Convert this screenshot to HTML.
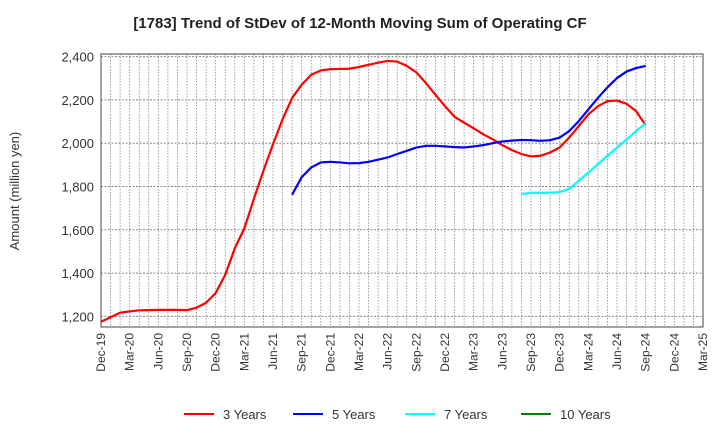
<!DOCTYPE html>
<html><head><meta charset="utf-8"><style>
body{margin:0;background:#fff;font-family:"Liberation Sans",Arial,sans-serif}
</style></head><body>
<svg id="c" width="720" height="440" xmlns="http://www.w3.org/2000/svg" font-family="Liberation Sans, Arial, sans-serif">
<text x="360" y="28" text-anchor="middle" font-size="15" font-weight="bold" fill="#222">[1783]  Trend of StDev of 12-Month Moving Sum of Operating CF</text>
<text transform="translate(19,191) rotate(-90)" text-anchor="middle" font-size="13" fill="#333">Amount (million yen)</text>
<g id="grid"></g><g id="axes"></g><g id="series"></g><g id="legend"></g>
</svg>
<script>
const xLabels=["Dec-19","Mar-20","Jun-20","Sep-20","Dec-20","Mar-21","Jun-21","Sep-21","Dec-21","Mar-22","Jun-22","Sep-22","Dec-22","Mar-23","Jun-23","Sep-23","Dec-23","Mar-24","Jun-24","Sep-24","Dec-24","Mar-25"];
const yTicks=[1200,1400,1600,1800,2000,2200,2400];
const seriesNames=["3 Years","5 Years","7 Years","10 Years"];
const seriesColors=["#ff0000","#0000ff","#00ffff","#008000"];
const red=[1175,1196,1217,1223,1228,1229,1230,1230,1230,1229,1240,1263,1308,1392,1514,1606,1743,1873,1995,2110,2209,2270,2316,2336,2342,2343,2344,2352,2362,2372,2380,2377,2357,2327,2278,2224,2171,2122,2095,2069,2041,2018,1991,1968,1950,1939,1942,1957,1980,2026,2079,2133,2171,2194,2197,2182,2148,2083];
const redStart=0;
const blue=[1762,1843,1888,1911,1914,1911,1907,1908,1914,1924,1934,1950,1965,1980,1988,1988,1985,1982,1980,1985,1991,2000,2008,2012,2015,2014,2011,2014,2026,2056,2102,2156,2209,2258,2301,2331,2347,2357];
const blueStart=20;
const cyan=[1765,1771,1771,1771,1774,1789,1827,1865,1903,1942,1980,2018,2056,2092];
const cyanStart=44;
const green=[];
const greenStart=0;

const NS="http://www.w3.org/2000/svg";
const L=101,R=703,T=54,B=327,yMin=1151,yMax=2412,months=63;
const X=m=>L+(R-L)*m/months;
const Y=v=>B-(B-T)*(v-yMin)/(yMax-yMin);
function mk(tag,attrs,parent){const e=document.createElementNS(NS,tag);for(const k in attrs)e.setAttribute(k,attrs[k]);parent.appendChild(e);return e;}
const grid=document.getElementById('grid'),axes=document.getElementById('axes'),ser=document.getElementById('series'),leg=document.getElementById('legend');
for(let m=0;m<=months;m++){
 const l=mk('line',{x1:X(m),x2:X(m),y1:T,y2:B,stroke:'#888','stroke-width':0.8,'stroke-dasharray':'1.5,1.5'},grid);
 
 
}
yTicks.forEach(v=>{
 const l=mk('line',{x1:L,x2:R,y1:Y(v),y2:Y(v),stroke:'#888','stroke-width':1,'stroke-dasharray':'2,1.5'},grid);
 
 
 const t=mk('text',{x:L-7,y:Y(v)+5,'text-anchor':'end','font-size':13,fill:'#333'},axes);
 t.textContent=v.toLocaleString('en-US');
 
 
});
xLabels.forEach((s,i)=>{
 const x=X(i*3);
 const t=mk('text',{transform:`translate(${x+4},${B+6}) rotate(-90)`,'text-anchor':'end','font-size':12,fill:'#333'},axes);
 t.textContent=s;
 
 
});
const fr=mk('rect',{x:L,y:T,width:R-L,height:B-T,fill:'none',stroke:'#444','stroke-width':1},axes);


[[red,redStart],[blue,blueStart],[cyan,cyanStart],[green,greenStart]].forEach(([d,s],i)=>{
 if(!d.length)return;
 const p=mk('polyline',{points:d.map((v,j)=>X(s+j)+','+Y(v)).join(' '),fill:'none',stroke:seriesColors[i],'stroke-width':2.2,'stroke-linejoin':'round'},ser);
 
 
});
const lx=[184,293,405,521];
seriesNames.forEach((n,i)=>{
 const g=mk('g',{},leg);
 
 
 mk('line',{x1:lx[i],x2:lx[i]+30,y1:414,y2:414,stroke:seriesColors[i],'stroke-width':2},g);
 const t=mk('text',{x:lx[i]+39,y:419,'font-size':13,fill:'#333'},g);
 t.textContent=n;
});
</script>
</body></html>
